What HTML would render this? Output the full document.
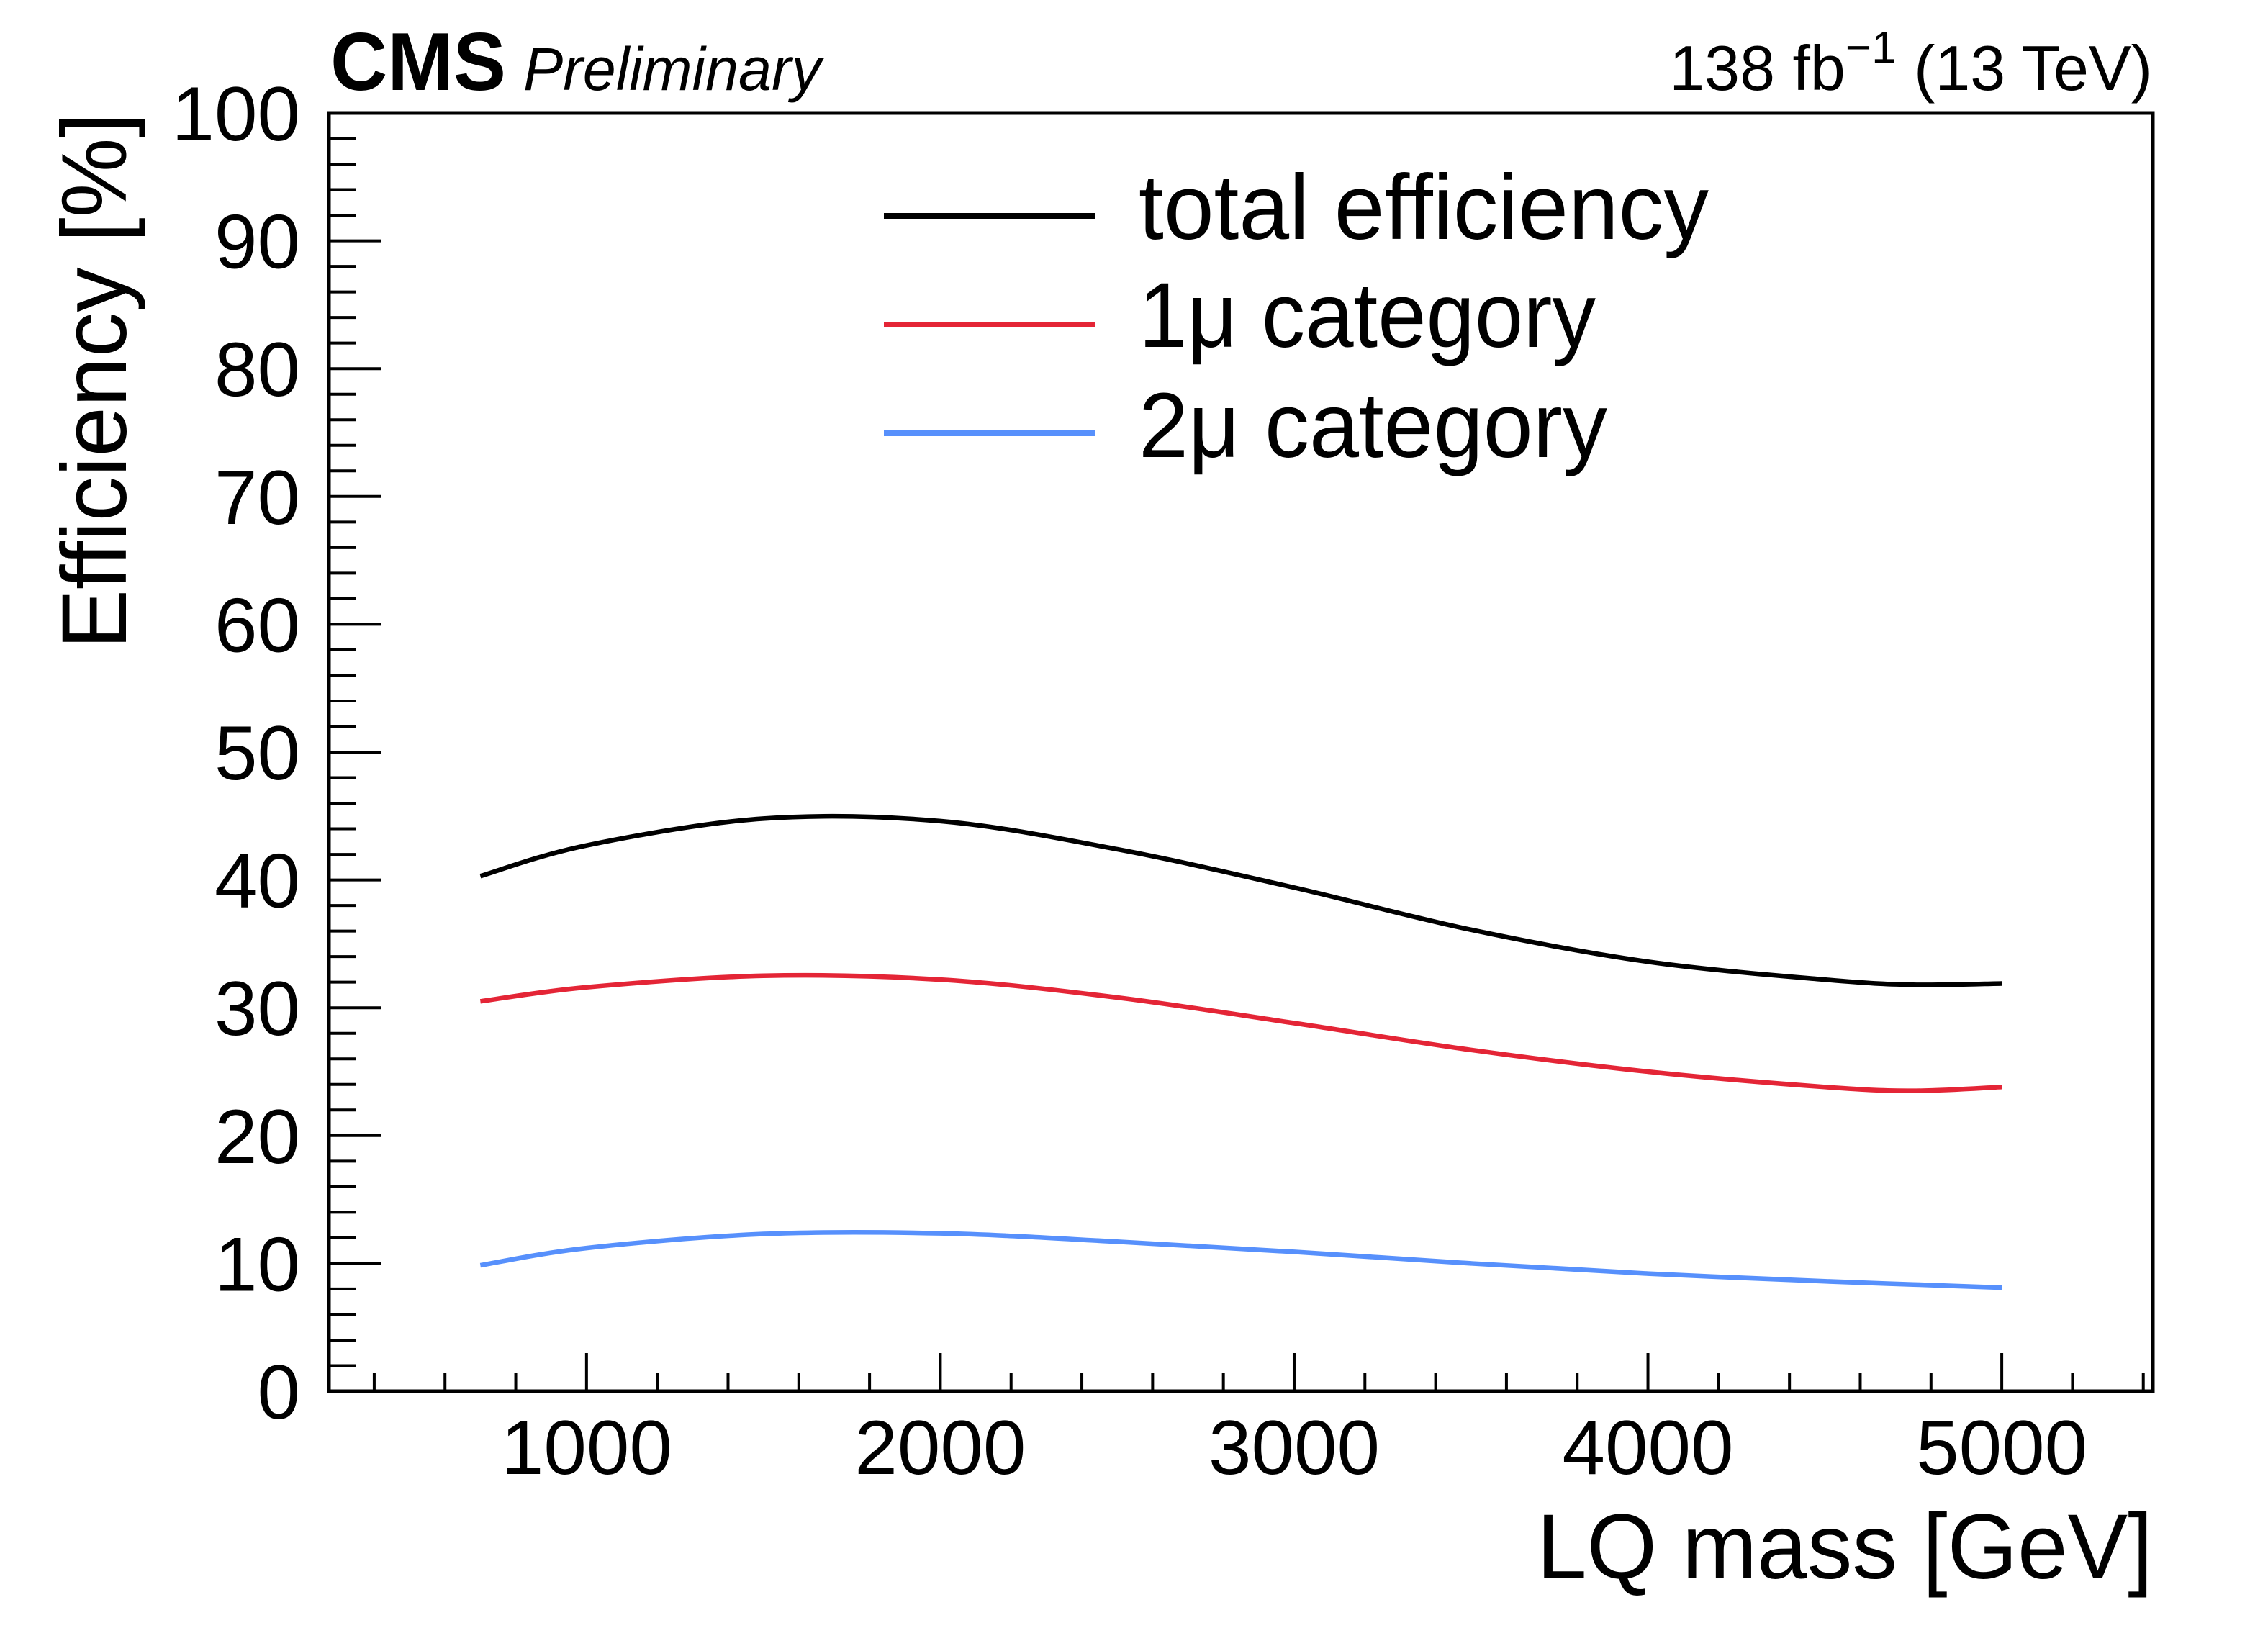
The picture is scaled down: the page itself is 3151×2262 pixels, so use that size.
<!DOCTYPE html>
<html><head><meta charset="utf-8"><style>
html,body{margin:0;padding:0;background:#fff;}
svg{display:block;font-family:"Liberation Sans",sans-serif;}
</style></head><body>
<svg id="chart" width="3151" height="2262" viewBox="0 0 3151 2262" xmlns="http://www.w3.org/2000/svg">
<rect x="0" y="0" width="3151" height="2262" fill="#fff"/>
<g id="axes"></g>
<g id="series"></g>
<rect x="457" y="157" width="2534" height="1776" fill="none" stroke="#000" stroke-width="5"/>
<text x="459" y="125" font-size="114" font-weight="bold" textLength="244" lengthAdjust="spacingAndGlyphs">CMS</text>
<text x="727" y="125" font-size="84" font-style="italic" textLength="414" lengthAdjust="spacingAndGlyphs">Preliminary</text>
<text x="2990" y="125" font-size="88" text-anchor="end">138 fb<tspan dy="-38" font-size="62">−1</tspan><tspan dy="38"> (13 TeV)</tspan></text>
<text x="2991" y="2193" font-size="128" text-anchor="end" textLength="856" lengthAdjust="spacingAndGlyphs">LQ mass [GeV]</text>
<text transform="translate(175,157) rotate(-90)" font-size="128" text-anchor="end" textLength="745" lengthAdjust="spacingAndGlyphs">Efficiency [%]</text>
<g>
<line x1="1228" y1="300" x2="1521" y2="300" stroke="#000" stroke-width="8"/>
<text x="1582" y="332" font-size="128" textLength="792" lengthAdjust="spacingAndGlyphs">total efficiency</text>
<line x1="1228" y1="451" x2="1521" y2="451" stroke="#e42536" stroke-width="8"/>
<text x="1582" y="482" font-size="128" textLength="635" lengthAdjust="spacingAndGlyphs">1μ category</text>
<line x1="1228" y1="602" x2="1521" y2="602" stroke="#5790fc" stroke-width="8"/>
<text x="1582" y="635" font-size="128" textLength="651" lengthAdjust="spacingAndGlyphs">2μ category</text>
</g>
</svg>
<script>
const masses = [700,1000,1500,2000,2500,3000,3500,4000,4500,4750,5000];
const totalEff = [40.3,42.7,44.8,44.6,42.4,39.4,36.1,33.6,32.2,31.8,31.9];
const oneMuEff = [30.5,31.6,32.5,32.2,30.8,28.8,26.7,25.0,23.8,23.5,23.8];
const twoMuEff = [9.85,11.2,12.3,12.35,11.7,10.9,10.0,9.2,8.6,8.35,8.1];
const xTickLabels = ["1000","2000","3000","4000","5000"];
const yTickLabels = ["0","10","20","30","40","50","60","70","80","90","100"];

const NS="http://www.w3.org/2000/svg";
const X0=457,X1=2991,Y0=1933,Y1=157;
const xMin=272,xMax=5427,yMin=0,yMax=100;
function xs(v){return X0+(v-xMin)/(xMax-xMin)*(X1-X0);}
function ys(v){return Y0-(v-yMin)/(yMax-yMin)*(Y0-Y1);}
const axes=document.getElementById('axes');
const series=document.getElementById('series');
function mk(tag,attrs,parent){const e=document.createElementNS(NS,tag);for(const k in attrs)e.setAttribute(k,attrs[k]);parent.appendChild(e);return e;}

for(let v=400;v<=5400;v+=200){
  const major=v%1000===0;
  const t=mk('line',{x1:xs(v),x2:xs(v),y1:Y0,y2:Y0-(major?53:26),stroke:'#000','stroke-width':4},axes);
  
  
}
xTickLabels.forEach(s=>{
  const t=mk('text',{x:xs(+s),y:2048,'font-size':107,'text-anchor':'middle'},axes);
  t.textContent=s;
  
  
});
for(let v=0;v<=100;v+=2){
  const major=v%10===0;
  const t=mk('line',{x1:X0,x2:X0+(major?73:37),y1:ys(v),y2:ys(v),stroke:'#000','stroke-width':4},axes);
  
  
}
yTickLabels.forEach(s=>{
  const t=mk('text',{x:417,y:ys(+s)+38,'font-size':107,'text-anchor':'end'},axes);
  t.textContent=s;
  
  
});
function pathFor(vals){
  const p=masses.map((m,i)=>[xs(m),ys(vals[i])]);
  let d='M'+p[0][0]+','+p[0][1];
  for(let i=0;i<p.length-1;i++){
    const a=p[Math.max(0,i-1)],b=p[i],c=p[i+1],e=p[Math.min(p.length-1,i+2)];
    const c1=[b[0]+(c[0]-a[0])/6,b[1]+(c[1]-a[1])/6];
    const c2=[c[0]-(e[0]-b[0])/6,c[1]-(e[1]-b[1])/6];
    d+=' C'+c1[0]+','+c1[1]+' '+c2[0]+','+c2[1]+' '+c[0]+','+c[1];
  }
  return d;
}
[[totalEff,'#000','total-efficiency-curve'],[oneMuEff,'#e42536','one-mu-curve'],[twoMuEff,'#5790fc','two-mu-curve']].forEach(([vals,col,name])=>{
  const e=mk('path',{d:pathFor(vals),fill:'none',stroke:col,'stroke-width':6.5},series);
  
  
});
</script>
</body></html>
